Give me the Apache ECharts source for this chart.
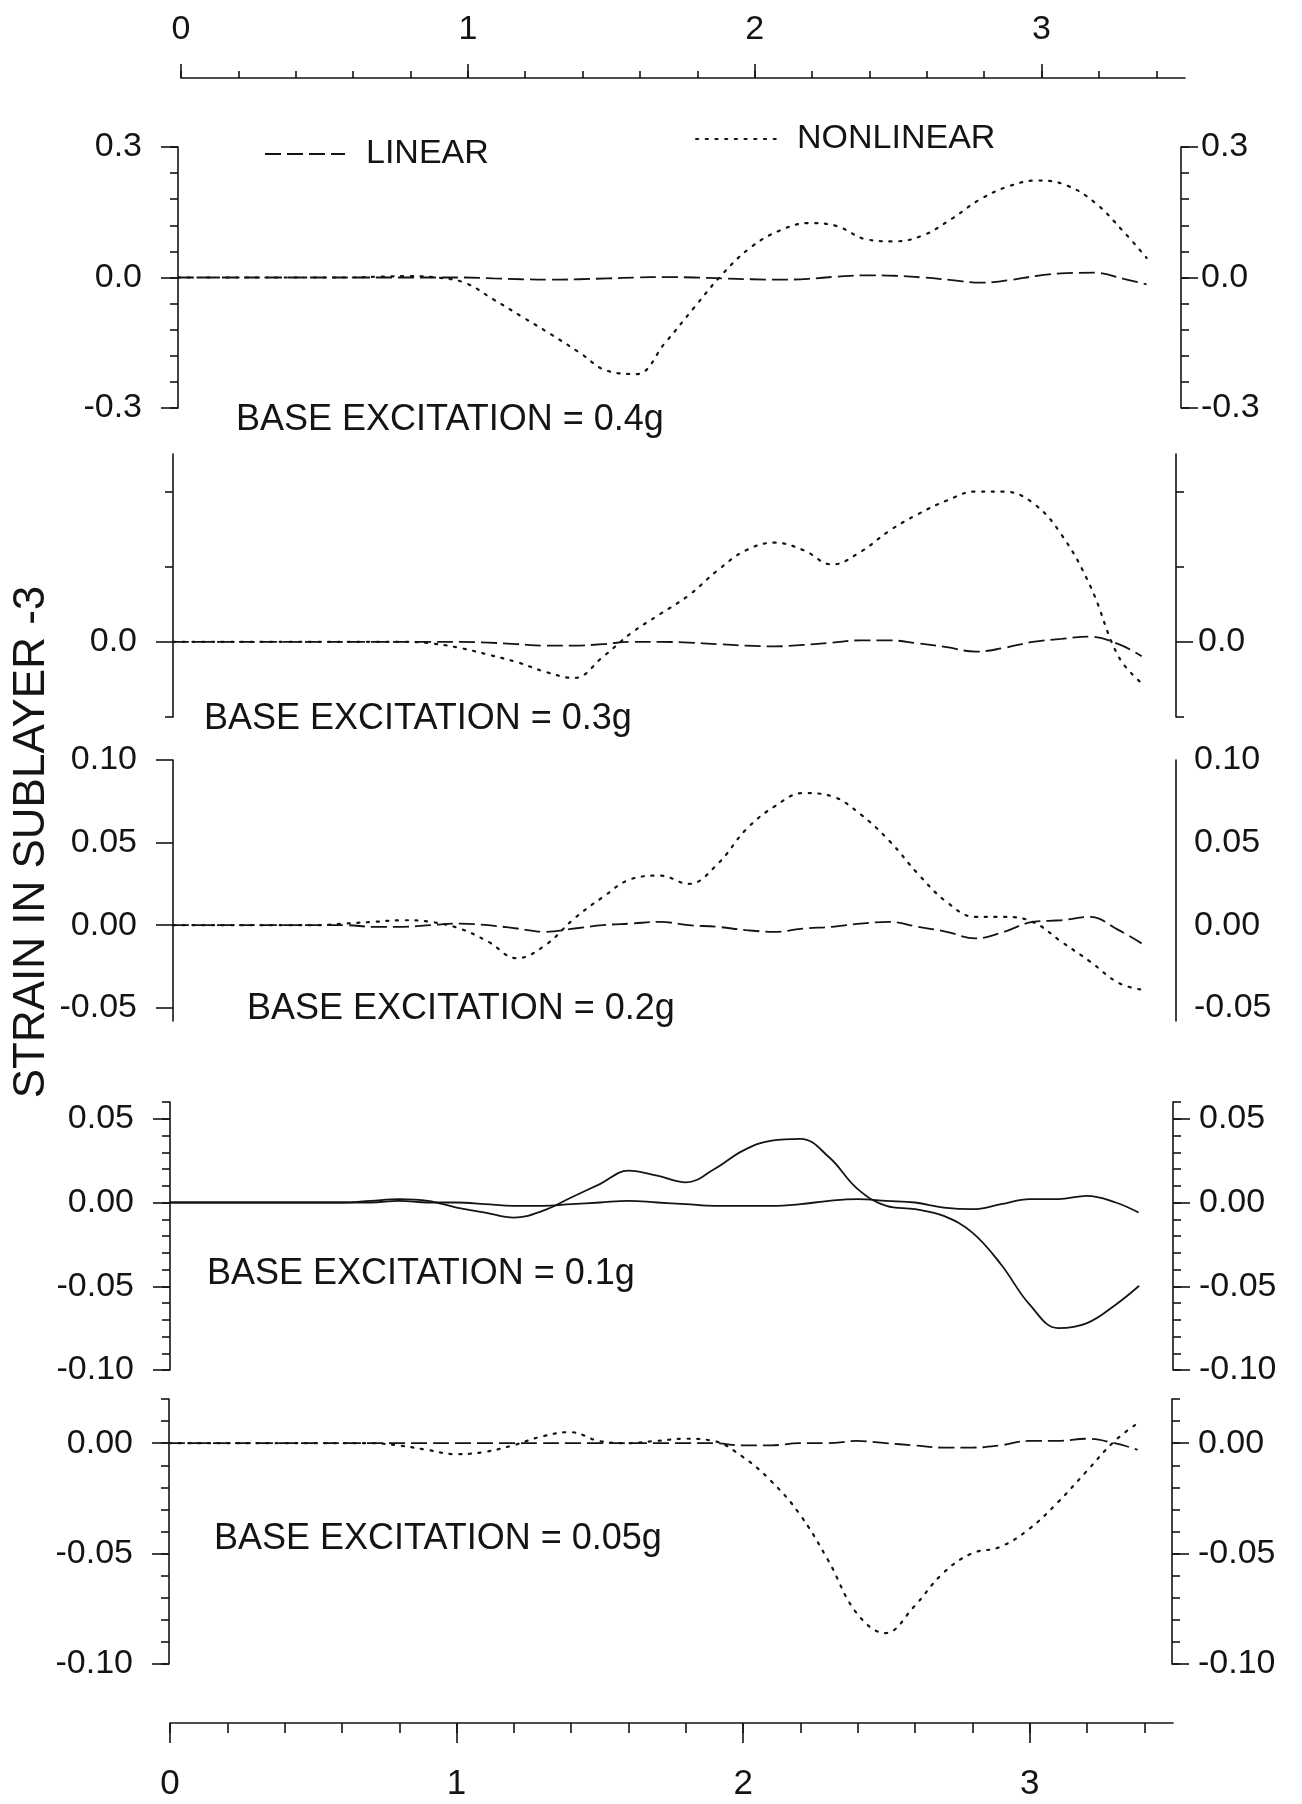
<!DOCTYPE html>
<html>
<head>
<meta charset="utf-8">
<title>Strain in sublayer -3</title>
<script src="https://cdn.jsdelivr.net/npm/echarts@6/dist/echarts.min.js"></script>
<style>
  html, body { margin: 0; padding: 0; background: #fff; }
  #main { width: 1302px; height: 1804px; }
</style>
</head>
<body>
<div id="main"></div>
<script>
// shared time axis for every panel
var time = [0, 0.1, 0.2, 0.3, 0.4, 0.5, 0.6, 0.7, 0.8, 0.9, 1.0, 1.1, 1.2, 1.3, 1.4, 1.5, 1.6,
  1.7, 1.8, 1.9, 2.0, 2.1, 2.2, 2.3, 2.4, 2.5, 2.6, 2.7, 2.8, 2.9, 3.0, 3.1, 3.2, 3.3, 3.38];

// base excitation = 0.4g
var lin04 = [0, 0, 0, 0, 0, 0, 0, 0, 0, 0, 0, -0.002, -0.004, -0.005, -0.004, -0.002, 0, 0.001,
  0, -0.002, -0.004, -0.005, -0.003, 0.002, 0.005, 0.004, 0, -0.006, -0.012, -0.006, 0.004,
  0.01, 0.011, -0.003, -0.016];
var nl04 = [0, 0, 0, 0, 0, 0, 0, 0.002, 0.003, 0, -0.012, -0.05, -0.09, -0.13, -0.172, -0.215,
  -0.222, -0.15, -0.07, 0.008, 0.07, 0.108, 0.125, 0.118, 0.088, 0.083, 0.097, 0.135, 0.18,
  0.21, 0.223, 0.212, 0.172, 0.105, 0.045];

// base excitation = 0.3g
var lin03 = [0, 0, 0, 0, 0, 0, 0, 0, 0, 0, 0, -0.001, -0.003, -0.005, -0.005, -0.003, 0, 0,
  -0.001, -0.003, -0.005, -0.006, -0.004, -0.001, 0.002, 0.002, -0.002, -0.007, -0.013,
  -0.008, 0, 0.004, 0.007, -0.003, -0.019];
var nl03 = [0, 0, 0, 0, 0, 0, 0, 0, 0, -0.002, -0.008, -0.017, -0.027, -0.04, -0.048, -0.02,
  0.012, 0.037, 0.062, 0.095, 0.122, 0.132, 0.122, 0.103, 0.12, 0.148, 0.17, 0.188, 0.2, 0.2,
  0.185, 0.143, 0.075, -0.02, -0.055];

// base excitation = 0.2g
var lin02 = [0, 0, 0, 0, 0, 0, 0, -0.001, -0.001, 0, 0.001, 0, -0.002, -0.004, -0.002, 0,
  0.001, 0.002, 0, -0.001, -0.003, -0.004, -0.002, -0.001, 0.001, 0.002, -0.001, -0.004,
  -0.008, -0.004, 0.002, 0.003, 0.005, -0.003, -0.011];
var nl02 = [0, 0, 0, 0, 0, 0, 0.001, 0.002, 0.003, 0.002, -0.002, -0.01, -0.02, -0.012, 0.004,
  0.017, 0.028, 0.03, 0.025, 0.037, 0.058, 0.072, 0.08, 0.078, 0.067, 0.051, 0.031, 0.014,
  0.005, 0.005, 0.002, -0.01, -0.022, -0.035, -0.039];

// base excitation = 0.1g
var lin01 = [0, 0, 0, 0, 0, 0, 0, 0, 0.001, 0, 0, -0.001, -0.002, -0.002, -0.001, 0, 0.001, 0,
  -0.001, -0.002, -0.002, -0.002, -0.001, 0.001, 0.002, 0.001, 0, -0.003, -0.004, -0.001,
  0.002, 0.002, 0.004, 0, -0.006];
var nl01 = [0, 0, 0, 0, 0, 0, 0, 0.001, 0.002, 0.001, -0.003, -0.006, -0.009, -0.005, 0.003,
  0.011, 0.019, 0.016, 0.012, 0.02, 0.031, 0.037, 0.038, 0.027, 0.008, -0.002, -0.004, -0.008,
  -0.018, -0.037, -0.061, -0.075, -0.072, -0.061, -0.05];

// base excitation = 0.05g
var lin005 = [0, 0, 0, 0, 0, 0, 0, 0, 0, 0, 0, 0, 0, 0, 0, 0, 0, 0, 0, 0, -0.001, -0.001, 0, 0,
  0.001, 0, -0.001, -0.002, -0.002, -0.001, 0.001, 0.001, 0.002, 0, -0.003];
var nl005 = [0, 0, 0, 0, 0, 0, 0, 0, -0.001, -0.003, -0.005, -0.004, -0.001, 0.003, 0.005,
  0.001, 0, 0.001, 0.002, 0.001, -0.006, -0.017, -0.032, -0.053, -0.077, -0.086, -0.074,
  -0.059, -0.05, -0.047, -0.039, -0.027, -0.013, 0.001, 0.009];

// tick values
var timeTicks = [0, 1, 2, 3];
var timeMinorTicks = [0, 0.2, 0.4, 0.6, 0.8, 1, 1.2, 1.4, 1.6, 1.8, 2, 2.2, 2.4, 2.6, 2.8, 3, 3.2, 3.4];
var ticks04 = [-0.3, 0, 0.3];
var ticks03 = [0];
var minor03 = [-0.1, 0.1, 0.2];
var ticks02 = [-0.05, 0, 0.05, 0.1];
var ticks01 = [-0.1, -0.05, 0, 0.05];
var ticks005 = [-0.1, -0.05, 0];

var INK = '#141414';
var FONT = '"Liberation Sans", Arial, Helvetica, sans-serif';

var panels = [
  { lin: lin04, nl: nl04, min: -0.3, max: 0.3, major: ticks04, minorStep: 0.06, digits: 1,
    left: 178, top: 147, height: 261, rightMargin: 20, note: 'BASE EXCITATION = 0.4g', noteX: 236, noteY: 420 },
  { lin: lin03, nl: nl03, min: -0.1, max: 0.25, major: ticks03, minorList: minor03, digits: 1,
    left: 173, top: 454, height: 263, rightMargin: 22, note: 'BASE EXCITATION = 0.3g', noteX: 204, noteY: 719 },
  { lin: lin02, nl: nl02, min: -0.058, max: 0.1, major: ticks02, digits: 2, rightTicks: false,
    left: 173, top: 760, height: 261, rightMargin: 18, note: 'BASE EXCITATION = 0.2g', noteX: 247, noteY: 1009 },
  { lin: lin01, nl: nl01, min: -0.1, max: 0.06, major: ticks01, minorStep: 0.01, digits: 2, solid: true,
    left: 170, top: 1102, height: 268, rightMargin: 26, note: 'BASE EXCITATION = 0.1g', noteX: 207, noteY: 1274 },
  { lin: lin005, nl: nl005, min: -0.1, max: 0.02, major: ticks005, minorStep: 0.01, digits: 2,
    left: 169, top: 1399, height: 265, rightMargin: 26, note: 'BASE EXCITATION = 0.05g', noteX: 214, noteY: 1539 }
];

function pairs(vals) {
  return time.map(function (t, i) { return [t, vals[i]]; });
}

var axisLineStyle = { color: INK, width: 1.6 };
var grids = [], xAxes = [], yAxes = [], series = [], graphics = [];

// top time axis
grids.push({ left: 181, top: 78, width: 1004, height: 1 });
xAxes.push({ type: 'value', gridIndex: 0, position: 'top', min: 0, max: 3.5,
  axisLine: { show: true, onZero: false, lineStyle: axisLineStyle },
  axisTick: { customValues: timeMinorTicks, length: 7, lineStyle: axisLineStyle },
  axisLabel: { show: false }, splitLine: { show: false } });
xAxes.push({ type: 'value', gridIndex: 0, position: 'top', min: 0, max: 3.5,
  axisLine: { show: false, onZero: false },
  axisTick: { customValues: timeTicks, length: 14, lineStyle: axisLineStyle },
  axisLabel: { customValues: timeTicks, margin: 31, color: INK, fontFamily: FONT, fontSize: 34 },
  splitLine: { show: false } });
yAxes.push({ type: 'value', gridIndex: 0, show: false });

panels.forEach(function (p) {
  var g = grids.length;
  grids.push({ left: p.left, top: p.top, width: 1003, height: p.height });
  var xi = xAxes.length;
  xAxes.push({ type: 'value', gridIndex: g, min: 0, max: 3.5, show: false });
  var yi = yAxes.length;
  ['left', 'right'].forEach(function (side) {
    var isLeft = side === 'left';
    var hasTicks = isLeft || p.rightTicks !== false;
    yAxes.push({ type: 'value', gridIndex: g, position: side, min: p.min, max: p.max,
      axisLine: { show: true, onZero: false, lineStyle: axisLineStyle },
      axisTick: { show: hasTicks, customValues: p.major, length: 17, lineStyle: axisLineStyle },
      axisLabel: { customValues: p.major, margin: isLeft ? 36 : p.rightMargin, color: INK,
        fontFamily: FONT, fontSize: 34,
        formatter: function (v) { return (+v).toFixed(p.digits); } },
      splitLine: { show: false } });
    var minor = { type: 'value', gridIndex: g, position: side, min: p.min, max: p.max,
      axisLine: { show: false, onZero: false }, axisLabel: { show: false },
      axisTick: { show: !!(p.minorStep || p.minorList), length: 8, lineStyle: axisLineStyle },
      splitLine: { show: false } };
    if (p.minorStep) minor.interval = p.minorStep;
    if (p.minorList) minor.axisTick.customValues = p.minorList;
    yAxes.push(minor);
  });
  series.push({ type: 'line', name: 'LINEAR', xAxisIndex: xi, yAxisIndex: yi, data: pairs(p.lin),
    smooth: 0.4, symbol: 'none', silent: true, itemStyle: { color: INK },
    lineStyle: { color: INK, width: 1.8, type: p.solid ? 'solid' : [16, 6] } });
  series.push({ type: 'line', name: 'NONLINEAR', xAxisIndex: xi, yAxisIndex: yi, data: pairs(p.nl),
    smooth: 0.4, symbol: 'none', silent: true, itemStyle: { color: INK },
    lineStyle: { color: INK, width: p.solid ? 1.8 : 2.2, type: p.solid ? 'solid' : [2.2, 7.5], cap: 'round' } });
  graphics.push({ type: 'text', x: p.noteX, y: p.noteY, silent: true,
    style: { text: p.note, fill: INK, font: '36px ' + FONT, align: 'left', verticalAlign: 'middle' } });
});

// bottom time axis
var gb = grids.length;
grids.push({ left: 170, top: 1722, width: 1003, height: 1 });
xAxes.push({ type: 'value', gridIndex: gb, position: 'bottom', min: 0, max: 3.5,
  axisLine: { show: true, onZero: false, lineStyle: axisLineStyle },
  axisTick: { customValues: timeMinorTicks, length: 10, lineStyle: axisLineStyle },
  axisLabel: { show: false }, splitLine: { show: false } });
xAxes.push({ type: 'value', gridIndex: gb, position: 'bottom', min: 0, max: 3.5,
  axisLine: { show: false, onZero: false },
  axisTick: { customValues: timeTicks, length: 20, lineStyle: axisLineStyle },
  axisLabel: { customValues: timeTicks, margin: 44, color: INK, fontFamily: FONT, fontSize: 35 },
  splitLine: { show: false } });
yAxes.push({ type: 'value', gridIndex: gb, show: false });

graphics.push({ type: 'text', x: 32, y: 842, rotation: Math.PI / 2, silent: true,
  style: { text: 'STRAIN IN SUBLAYER -3', fill: INK, font: '44px ' + FONT, align: 'center', verticalAlign: 'middle' } });

var chart = echarts.init(document.getElementById('main'));
chart.setOption({
  backgroundColor: '#fff',
  animation: false,
  legend: [
    { data: ['LINEAR'], left: 259, top: 132, itemWidth: 80, itemHeight: 14, selectedMode: false,
      itemStyle: { opacity: 0 },
      textStyle: { color: INK, fontFamily: FONT, fontSize: 34, padding: [0, 0, 0, 16] } },
    { data: ['NONLINEAR'], left: 690, top: 117, itemWidth: 83, itemHeight: 14, selectedMode: false,
      itemStyle: { opacity: 0 },
      textStyle: { color: INK, fontFamily: FONT, fontSize: 34, padding: [0, 0, 0, 13] } }
  ],
  grid: grids,
  xAxis: xAxes,
  yAxis: yAxes,
  series: series,
  graphic: graphics
});
</script>
</body>
</html>
